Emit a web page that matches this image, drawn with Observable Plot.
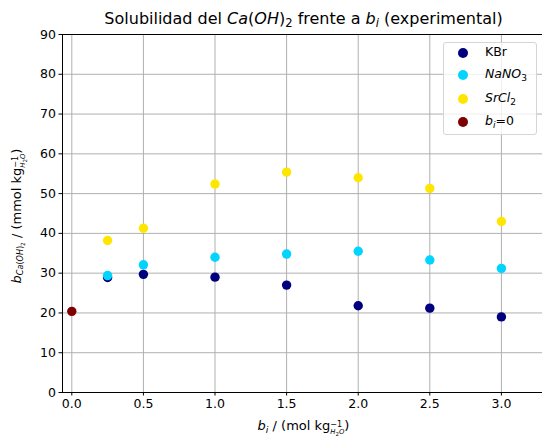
<!DOCTYPE html>
<html>
<head>
<meta charset="utf-8">
<script src="https://cdn.jsdelivr.net/npm/d3@7"></script>
<script src="https://cdn.jsdelivr.net/npm/@observablehq/plot@0.6"></script>
<style>
  html, body { margin: 0; padding: 0; background: #fff; overflow: hidden; }
  body { font-family: "DejaVu Sans", sans-serif; color: #000; }
  #wrap { position: relative; width: 542px; height: 438px; overflow: hidden; }
  #wrap svg { position: absolute; left: 0; top: 0; }
  .ov { position: absolute; white-space: nowrap; }
  #title { font-size: 16px; left: 0; width: 607px; text-align: center; top: 9px; }
  #xlabel { font-size: 13px; left: 0; width: 607px; text-align: center; top: 418px; }
  #ylabel { font-size: 13px; left: 18px; top: 216px; transform: translate(-50%, -50%) rotate(-90deg); }
  sub { font-size: 0.72em; vertical-align: -0.3em; line-height: 0; }
  .ss { display: inline-block; vertical-align: -0.55em; font-size: 0.62em; line-height: 1.0; text-align: left; }
  .ss .up { display: block; }
  .ss .dn { display: block; font-size: 0.85em; }
  .ss .dn .s2 { font-size: 0.8em; position: relative; top: 0.2em; }
  #legend { position: absolute; left: 443px; top: 42px; width: 94px; height: 93px; border: 1px solid #d5d5d5; border-radius: 3px; background: rgba(255,255,255,0.8); box-sizing: border-box; }
  .lrow { position: absolute; left: 0; height: 20px; width: 100%; font-size: 12.5px; }
  .lrow .dot { position: absolute; left: 14px; top: 5px; width: 10px; height: 10px; border-radius: 50%; }
  .lrow .lt { position: absolute; left: 41px; top: 1px; }
</style>
</head>
<body>
<div id="wrap"></div>
<script>
// ---- data ----
const bi = [0.25, 0.5, 1.0, 1.5, 2.0, 2.5, 3.0];
const kbr = [28.9, 29.7, 29.0, 27.0, 21.8, 21.2, 19.0];
const nano3 = [29.4, 32.1, 34.0, 34.8, 35.5, 33.3, 31.2];
const srcl2 = [38.2, 41.3, 52.4, 55.4, 54.0, 51.3, 43.0];
const zeroBi = [0];
const zeroB = [20.4];
const xTicks = [0, 0.5, 1.0, 1.5, 2.0, 2.5, 3.0];
const yTicks = [0, 10, 20, 30, 40, 50, 60, 70, 80, 90];
const seriesNames = ["KBr", "NaNO3", "SrCl2", "bi=0"];
const seriesColors = ["#00007f", "#00d4ff", "#ffe600", "#7f0000"];

const xDomain = [-0.065, 3.287];
const yDomain = [0, 90];

const rows = [];
bi.forEach((x, i) => rows.push({x, y: kbr[i], s: seriesNames[0]}));
bi.forEach((x, i) => rows.push({x, y: nano3[i], s: seriesNames[1]}));
bi.forEach((x, i) => rows.push({x, y: srcl2[i], s: seriesNames[2]}));
zeroBi.forEach((x, i) => rows.push({x, y: zeroB[i], s: seriesNames[3]}));

const chart = Plot.plot({
  width: 542,
  height: 438,
  marginLeft: 62,
  marginRight: 0,
  marginTop: 34,
  marginBottom: 46,
  style: {fontFamily: "DejaVu Sans, sans-serif", fontSize: "12.5px", color: "#000", background: "#fff"},
  x: {domain: xDomain, label: null},
  y: {domain: yDomain, label: null},
  color: {domain: seriesNames, range: seriesColors},
  marks: [
    Plot.gridX(xTicks, {stroke: "#b0b0b0", strokeOpacity: 1, strokeWidth: 1}),
    Plot.gridY(yTicks, {stroke: "#b0b0b0", strokeOpacity: 1, strokeWidth: 1}),
    Plot.ruleX([xDomain[0]], {stroke: "#000", strokeWidth: 1}),
    Plot.ruleY([yDomain[0]], {stroke: "#000", strokeWidth: 1}),
    Plot.ruleY([yDomain[1]], {stroke: "#000", strokeWidth: 1}),
    Plot.axisX(xTicks, {tickFormat: d3.format(".1f"), tickSize: 3.5, tickPadding: 3, fontSize: 12.5, label: null, stroke: "#000"}),
    Plot.axisY(yTicks, {tickSize: 3.5, tickPadding: 3, fontSize: 12.5, label: null, stroke: "#000"}),
    Plot.dot(rows, {x: "x", y: "y", fill: "s", r: 4.7, stroke: null})
  ]
});
document.getElementById("wrap").appendChild(chart);

const wrap = document.getElementById("wrap");
function add(id, html) {
  const d = document.createElement("div");
  d.className = "ov"; d.id = id; d.innerHTML = html;
  wrap.appendChild(d);
}
const unitStack = '<span class="ss"><span class="up">−1</span><span class="dn"><i>H</i><span class="s2">2</span><i>O</i></span></span>';
add("title", 'Solubilidad del <i>Ca</i>(<i>OH</i>)<sub>2</sub> frente a <i>b<sub>i</sub></i> (experimental)');
add("xlabel", '<i>b<sub>i</sub></i> / (mol kg' + unitStack + ')');
add("ylabel", '<i>b</i><sub style="font-size:0.62em"><i>Ca</i>(<i>OH</i>)<sub>2</sub></sub> / (mmol kg' + unitStack + ')');

const legendLabels = ['KBr', '<i>NaNO</i><sub>3</sub>', '<i>SrCl</i><sub>2</sub>', '<i>b<sub>i</sub></i>=0'];
const leg = document.createElement("div");
leg.id = "legend";
const rowTops = [0, 22, 46, 69];
seriesNames.forEach((n, i) => {
  const r = document.createElement("div");
  r.className = "lrow";
  r.style.top = rowTops[i] + "px";
  r.innerHTML = `<span class="dot" style="background:${seriesColors[i]}"></span><span class="lt">${legendLabels[i]}</span>`;
  leg.appendChild(r);
});
wrap.appendChild(leg);
</script>
</body>
</html>
